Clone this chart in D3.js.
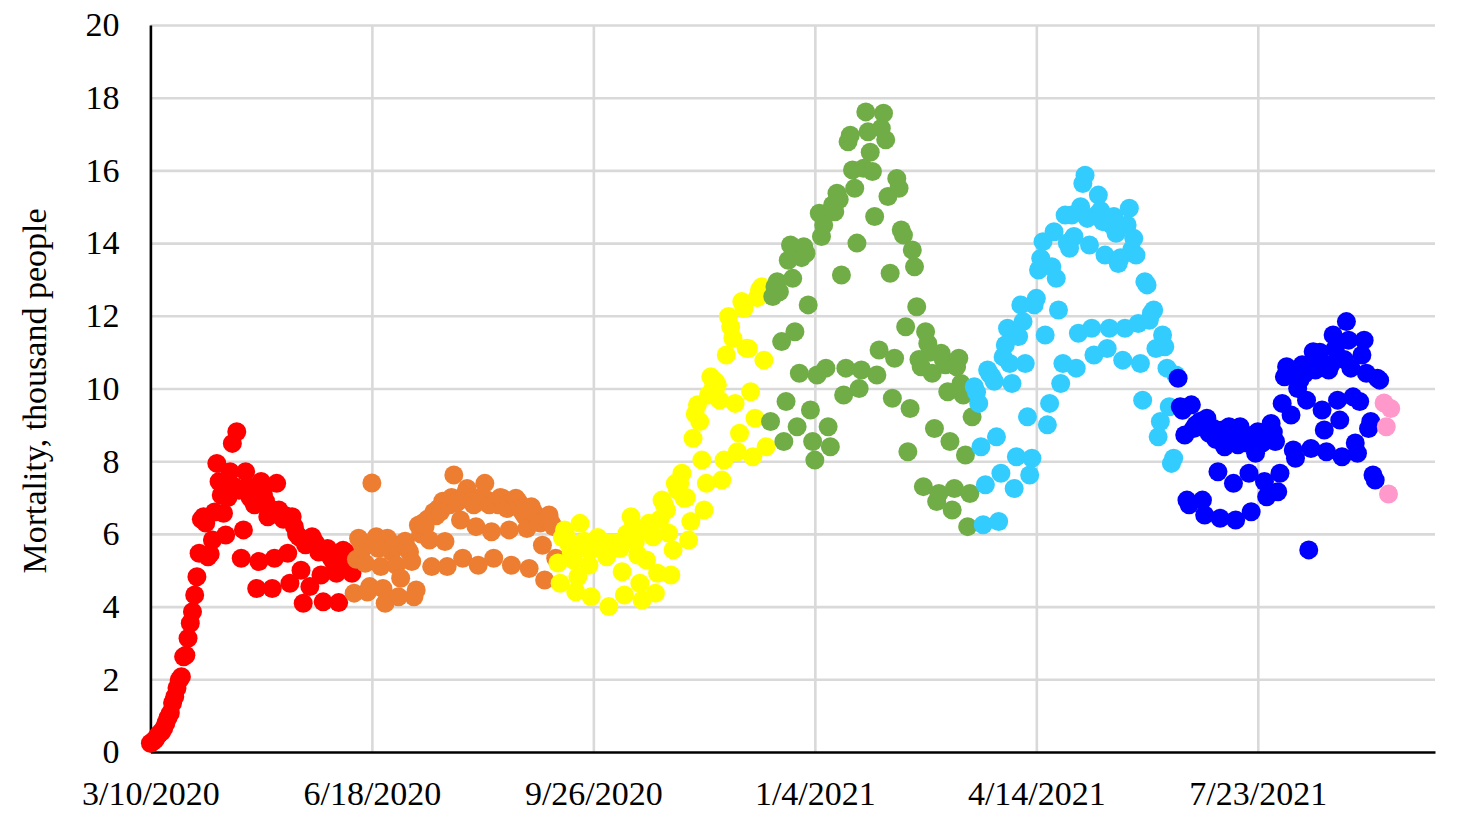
<!DOCTYPE html>
<html>
<head>
<meta charset="utf-8">
<script src="https://cdn.jsdelivr.net/npm/d3@7"></script>
<style>
  html, body { margin: 0; padding: 0; background: #ffffff; }
  svg { display: block; }
</style>
</head>
<body>
<svg id="chart" width="1460" height="824"></svg>
<script>
// ---------------- DATA ----------------
const seriesNames = ["Period 1", "Period 2", "Period 3", "Period 4", "Period 5", "Period 6", "Period 7"];
const seriesStartDates = ["3/10/2020", "6/10/2020", "9/10/2020", "12/15/2020", "3/17/2021", "6/17/2021", "9/18/2021"];

const redValues = [
  0.24,0.28,0.33,0.42,0.5,0.55,0.65,
  0.8,0.95,1.07,1.35,1.52,1.76,1.98,
  2.07,2.62,2.66,3.13,3.54,3.86,4.32,
  4.82,5.47,6.4,6.47,6.3,5.37,5.45,
  5.83,6.6,7.94,7.44,7.07,6.57,5.97,
  7.0,7.71,8.49,7.3,8.81,7.2,5.33,
  6.11,7.71,7.3,7.0,6.93,6.8,4.5,
  5.24,7.44,7.1,6.9,6.47,6.7,4.5,
  5.33,7.39,6.66,6.55,6.4,6.5,5.47,
  4.64,6.47,6.2,6.0,5.92,5.0,4.09,
  5.7,5.8,4.55,5.92,5.8,5.7,5.5,
  4.87,4.13,5.5,5.6,5.4,5.3,5.2,
  4.92,4.11,5.3,5.55,5.5,5.4,5.2,
  4.92
];
const orangeValues = [
  4.37,5.3,5.88,5.8,5.6,5.19,4.4,
  4.55,7.4,5.7,5.92,5.6,5.1,4.5,
  4.09,5.88,5.6,5.5,5.7,5.14,4.27,
  4.78,5.74,5.8,5.6,5.5,5.24,4.27,
  4.46,6.24,6.0,6.3,6.2,6.4,
  5.83,5.1,6.6,6.5,6.7,6.61,6.9,
  5.79,5.1,6.8,7.0,7.62,6.84,6.9,
  6.38,5.33,7.1,7.25,7.0,6.9,6.8,
  6.2,5.14,7.0,6.9,7.39,6.93,6.8,
  6.06,5.33,6.9,6.8,7.0,6.98,6.8,6.7,
  6.11,5.14,6.8,6.98,6.9,6.7,6.6,6.5,
  6.15,5.05,6.75,6.6,6.5,6.4,6.3,
  5.69,4.73,6.4,6.52,6.3,6.2,5.33
];
const yellowValues = [
  5.2,4.64,5.9,6.11,5.9,5.7,5.5,
  5.28,4.41,4.82,6.29,5.74,5.8,5.6,
  5.14,4.27,5.6,5.8,5.9,5.83,5.7,
  5.6,5.37,4.0,5.74,5.6,5.7,5.74,
  5.6,4.96,4.32,6.0,6.02,6.47,6.2,
  5.8,5.42,4.64,4.18,6.1,5.28,6.29,
  6.1,5.92,4.37,4.92,6.4,6.93,6.8,
  6.66,6.02,4.87,5.56,7.39,7.2,7.4,
  7.67,6.98,7.0,5.83,6.34,8.63,9.3,
  9.55,9.09,8.03,6.66,7.39,9.82,10.32,
  10.0,10.2,10.1,9.68,7.48,8.03,10.92,
  11.98,11.7,11.38,9.59,8.26,8.77,12.39,
  12.2,11.11,11.1,9.91,8.12,9.18,12.5,
  12.71,12.8,10.78,8.4
];
const greenValues = [
  9.09,12.53,12.8,12.94,12.66,11.29,8.54,
  9.64,13.53,13.95,13.03,11.56,8.95,10.42,
  13.6,13.9,13.72,12.3,9.41,8.54,8.03,
  10.37,14.82,14.18,14.5,10.56,8.95,8.4,
  15.05,14.86,15.37,15.2,13.12,9.82,10.56,
  16.79,16.97,16.01,15.51,14.0,10.0,10.51,
  16.06,17.61,17.06,16.5,15.97,14.73,10.37,
  11.06,17.16,17.57,16.84,15.28,13.17,9.73,
  10.83,15.78,15.51,14.36,14.22,11.7,8.26,
  9.45,13.81,13.35,12.25,10.8,10.6,7.3,
  11.56,11.24,11.0,10.42,8.9,6.89,7.11,
  10.97,10.8,10.65,9.91,8.54,6.66,7.25,
  10.6,10.83,10.14,9.82,8.17,6.2,7.11,
  9.22
];
const cyanValues = [
  10.05,9.9,9.59,8.4,6.25,7.35,10.51,
  10.4,10.32,10.2,8.67,6.34,7.67,10.87,
  11.2,11.66,10.69,10.14,7.25,8.12,11.43,
  12.3,11.84,10.69,9.22,7.62,8.08,12.3,
  12.48,13.26,13.58,14.04,11.47,9.0,9.59,
  13.35,14.31,13.03,12.16,10.14,10.69,14.77,
  14.0,13.86,14.77,14.18,10.56,11.52,15.0,
  15.64,15.87,14.68,13.95,11.66,10.92,14.77,
  15.32,14.9,14.59,13.67,11.1,11.66,14.5,
  14.73,14.27,13.44,13.6,10.78,11.66,14.5,
  14.96,13.81,14.13,13.67,11.79,10.69,9.68,
  12.94,12.85,11.88,12.07,12.16,11.1,8.67,
  9.09,11.47,11.15,10.56,9.5,7.94,8.08,
  10.37
];
const blueValues = [
  10.28,9.5,9.4,8.72,6.93,6.8,9.55,
  8.9,9.0,8.95,9.1,6.93,6.52,9.18,
  8.77,8.86,8.9,8.6,7.71,6.43,8.86,
  8.4,8.7,8.95,8.6,7.39,6.38,8.45,
  8.95,8.7,8.72,8.5,7.67,6.61,8.72,
  8.22,8.81,8.63,8.5,7.44,7.02,8.63,
  9.04,8.8,8.54,7.16,7.67,9.59,10.32,
  10.6,10.4,9.27,8.31,8.08,10.0,10.23,
  10.65,10.4,9.68,5.56,8.35,11.01,10.51,
  10.8,11.0,9.41,8.86,8.26,10.51,10.65,
  11.47,11.1,9.68,9.13,8.12,10.8,11.84,
  11.33,10.56,9.77,8.5,8.22,9.64,10.92,
  11.33,10.42,8.9,9.09,7.62,7.48,10.28,
  10.23
];
const pinkValues = [9.6, 8.95, 7.1, 9.45];

const seriesValues = [redValues, orangeValues, yellowValues, greenValues, cyanValues, blueValues, pinkValues];

const yTickValues = [0, 2, 4, 6, 8, 10, 12, 14, 16, 18, 20];
const xTickLabels = ["3/10/2020", "6/18/2020", "9/26/2020", "1/4/2021", "4/14/2021", "7/23/2021"];
const yAxisTitle = "Mortality, thousand people";

// ---------------- STYLE ----------------
const COLORS = ["#FF0000", "#ED7D31", "#FFFF00", "#70AD47", "#33CCFF", "#0000FF", "#FF99CC"];
const FONT = "'Liberation Serif', 'Times New Roman', Times, serif";
const plot = { left: 150.4, right: 1435, top: 25, bottom: 752 };
const DOT_R = 9.5;

// ---------------- SCALES ----------------
const parse = d3.utcParse("%m/%d/%Y");
const x0 = parse(xTickLabels[0]);
const x = d3.scaleUtc()
  .domain([x0, d3.utcDay.offset(x0, 580)])
  .range([plot.left, plot.right]);
const y = d3.scaleLinear().domain([0, 20]).range([plot.bottom, plot.top]);

const svg = d3.select("#chart");
svg.append("rect").attr("width", 1460).attr("height", 824).attr("fill", "#fff");

const xTickDates = xTickLabels.map(parse);

// gridlines
svg.append("g")
  .attr("transform", `translate(${plot.left},0)`)
  .call(d3.axisLeft(y).tickValues(yTickValues.slice(1)).tickSize(-(plot.right - plot.left)).tickFormat(""))
  .call(g => g.select(".domain").remove())
  .call(g => g.selectAll(".tick line").attr("stroke", "#d9d9d9").attr("stroke-width", 2.6));

svg.append("g")
  .attr("transform", `translate(0,${plot.bottom})`)
  .call(d3.axisBottom(x).tickValues(xTickDates.slice(1)).tickSize(-(plot.bottom - plot.top)).tickFormat(""))
  .call(g => g.select(".domain").remove())
  .call(g => g.selectAll(".tick line").attr("stroke", "#d9d9d9").attr("stroke-width", 2.6));

// axes
const yAxis = svg.append("g")
  .attr("transform", `translate(${plot.left},0)`)
  .call(d3.axisLeft(y).tickValues(yTickValues).tickSize(0).tickSizeOuter(0).tickPadding(31).tickFormat(d => String(d)));
yAxis.attr("font-family", FONT).attr("font-size", 34);
yAxis.select(".domain").attr("stroke", "#000").attr("stroke-width", 2.6);
yAxis.selectAll(".tick text").attr("fill", "#000");

const xAxis = svg.append("g")
  .attr("transform", `translate(0,${plot.bottom})`)
  .call(d3.axisBottom(x).tickValues(xTickDates).tickSize(0).tickSizeOuter(0).tickPadding(29)
    .tickFormat((d, i) => xTickLabels[i]));
xAxis.attr("font-family", FONT).attr("font-size", 34);
xAxis.select(".domain").attr("stroke", "#000").attr("stroke-width", 2.6);
xAxis.selectAll(".tick text").attr("fill", "#000");

// y-axis title
svg.append("text")
  .attr("transform", `translate(46,391) rotate(-90)`)
  .attr("text-anchor", "middle")
  .attr("font-family", FONT)
  .attr("font-size", 34)
  .attr("fill", "#000")
  .text(yAxisTitle);

// points
seriesValues.forEach((vals, si) => {
  const start = parse(seriesStartDates[si]);
  const pts = vals.map((v, i) => ({ date: d3.utcDay.offset(start, i), value: v }));
  svg.append("g")
    .attr("class", "series")
    .attr("data-name", seriesNames[si])
    .selectAll("circle")
    .data(pts)
    .join("circle")
    .attr("cx", d => x(d.date))
    .attr("cy", d => y(d.value))
    .attr("r", DOT_R)
    .attr("fill", COLORS[si]);
});
</script>
</body>
</html>
